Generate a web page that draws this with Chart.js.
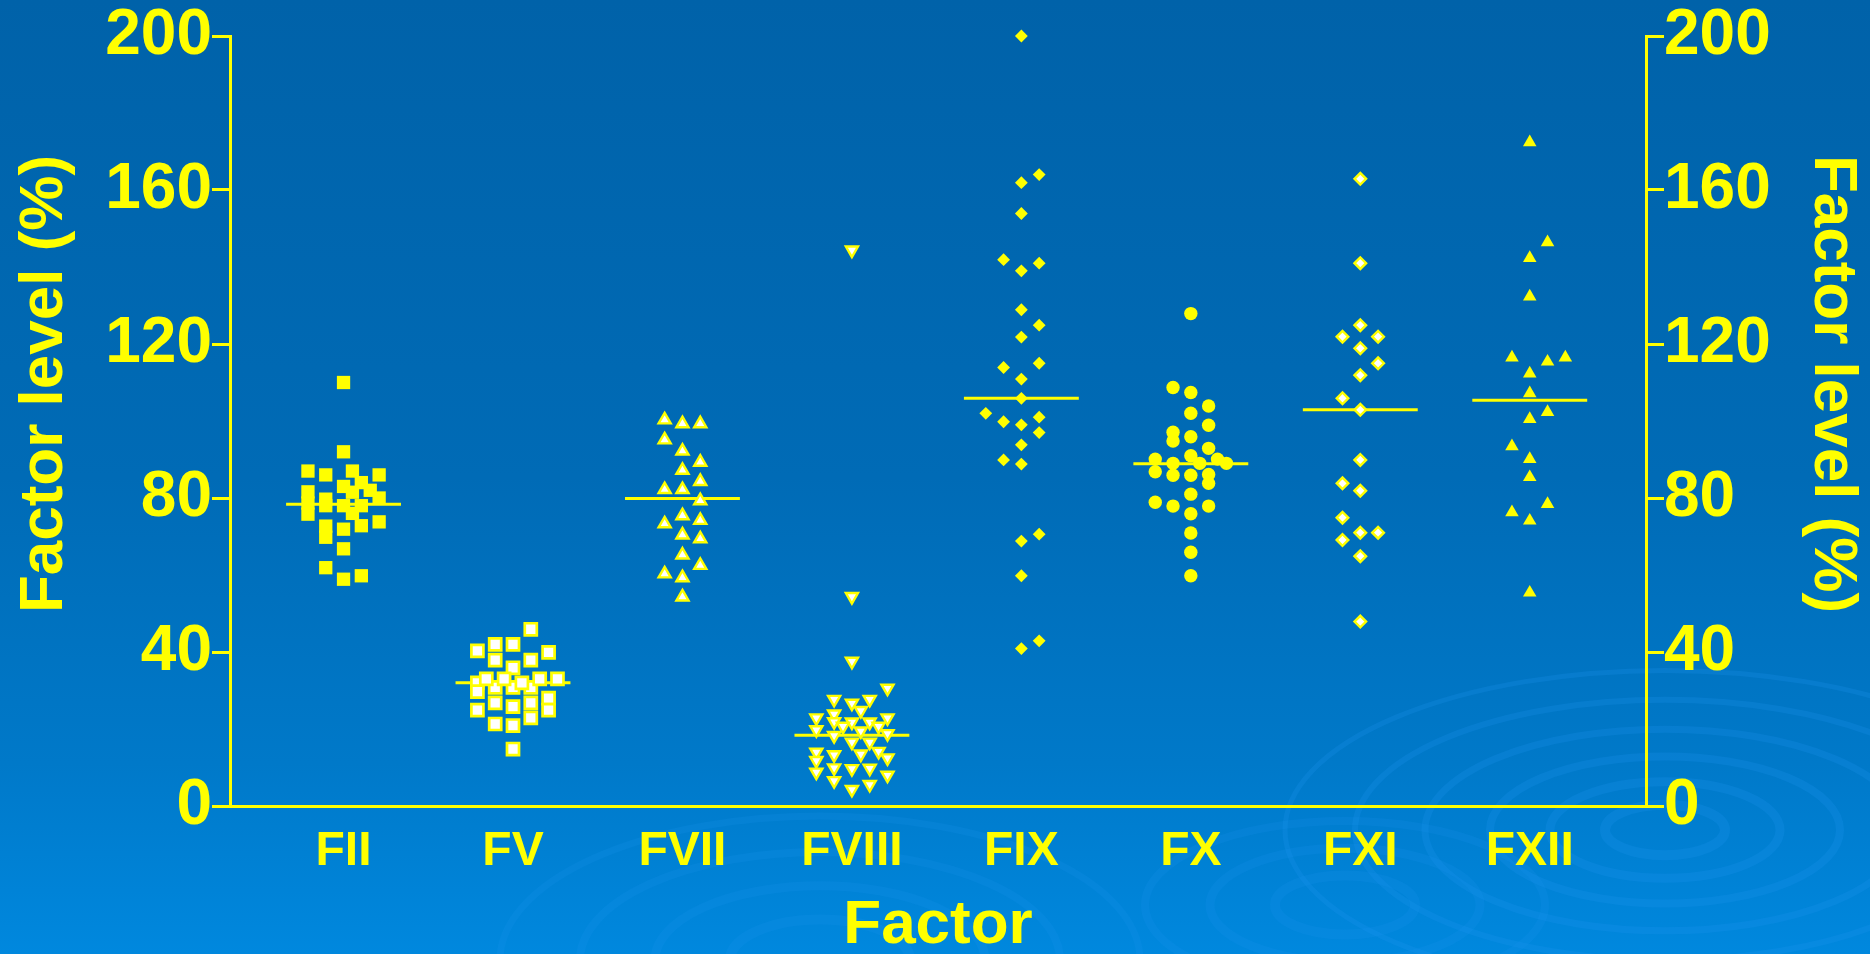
<!DOCTYPE html>
<html>
<head>
<meta charset="utf-8">
<script src="https://cdn.jsdelivr.net/npm/chart.js@4.4.1/dist/chart.umd.min.js"></script>
<style>
  html, body { margin: 0; padding: 0; background: #0068B2; overflow: hidden; }
  #wrap { width: 1870px; height: 954px; }
</style>
</head>
<body>
<div id="wrap"><canvas id="c" width="1870" height="954"></canvas></div>
<script>
// Coagulation factor levels (%) per factor, with the column slot each dot occupies
const categories = ['FII', 'FV', 'FVII', 'FVIII', 'FIX', 'FX', 'FXI', 'FXII'];
const yTicks = [0, 40, 80, 120, 160, 200];
const medians = [78.4, 32.0, 79.9, 18.4, 105.9, 88.9, 102.9, 105.4];

const fiiVals  = [110, 92, 87, 86, 87, 86, 84, 83, 81.5, 82, 80, 81.6, 78.7, 75.8, 79.7, 78, 72.7, 69.8, 78, 76, 78, 72.8, 73.8, 71.9, 66.8, 61.9, 58.9, 59.8];
const fiiSlots = [0, 0, -4, -2, 1, 4, 2, 0, 1, 3, 4, -4, -4, -4, -2, -2, -2, -2, 0, 1, 2, 2, 4, 0, 0, -2, 0, 2];

const fvVals  = [45.9, 42, 42, 40.3, 39.9, 37.9, 37.9, 35.9, 32, 30.8, 30.8, 30.8, 33, 33, 32, 33, 33, 29.7, 28, 26.8, 26.8, 25.8, 24.9, 24.9, 22.9, 21.3, 20.9, 14.8];
const fvSlots = [2, -2, 0, -4, 4, -2, 2, 0, -4, -2, 0, 2, -3, -1, 1, 3, 5, -4, 4, -2, 2, 0, -4, 4, 2, -2, 0, 0];

const fviiVals  = [100.3, 99.3, 99.3, 95.1, 92.2, 89.3, 87.2, 84.3, 82.2, 82.2, 79.3, 75.4, 74.2, 73.3, 70.4, 69.4, 65.2, 62.5, 60.3, 59.3, 54.3];
const fviiSlots = [-2, 0, 2, -2, 0, 2, 0, 2, -2, 0, 2, 0, 2, -2, 0, 2, 0, 2, -2, 0, 0];

const fviiiVals  = [144.4, 54.4, 37.6, 30.6, 27.7, 27.7, 26.7, 24.8, 23.9, 22.9, 22.9, 21.9, 21.8, 21.8, 20.7, 20.7, 19.8, 18.3, 19.5, 18.8, 16.6, 16.6, 14.2, 14.0, 13.5, 13.3, 11.8, 12.5, 8.8, 9.9, 9.7, 9.8, 8.0, 6.6, 5.6, 4.3];
const fviiiSlots = [0, 0, 0, 4, -2, 2, 0, 1, -2, -4, 4, -2, 0, 2, -1, 3, -4, -2, 1, 4, 0, 2, 3, -4, 1, -2, -4, 4, -4, -2, 0, 2, 4, -2, 2, 0];

const fixVals  = [200, 164, 161.9, 153.9, 141.9, 141, 139, 128.9, 124.9, 121.8, 113.9, 115, 110.9, 105.9, 102, 99.8, 101, 99, 97, 93.8, 89.9, 88.8, 70.6, 68.8, 59.8, 42.9, 40.9];
const fixSlots = [0, 2, 0, 0, -2, 2, 0, 0, 2, 0, -2, 2, 0, 0, -4, -2, 2, 0, 2, 0, -2, 0, 2, 0, 0, 2, 0];

const fxVals  = [127.9, 108.7, 107.4, 103.9, 102, 98.9, 97.1, 94.8, 95.9, 92.9, 91, 90.1, 90.1, 89, 89, 89, 86.8, 86.1, 85.9, 85.9, 83.8, 81, 78.9, 77.9, 77.9, 75.9, 70.9, 65.9, 59.8];
const fxSlots = [0, -2, 0, 2, 0, 2, -2, -2, 0, 2, 0, -4, 3, -2, 1, 4, -4, 2, -2, 0, 2, 0, -4, -2, 2, 0, 0, 0, 0];

const fxiVals  = [162.9, 141, 124.9, 121.9, 121.9, 118.9, 115, 111.9, 105.9, 102.9, 89.9, 83.8, 81.9, 74.9, 71, 71, 69.1, 64.9, 47.9];
const fxiSlots = [0, 0, 0, -2, 2, 0, 2, 0, -2, 0, 0, -2, 0, -2, 0, 2, -2, 0, 0];

const fxiiVals  = [172.4, 146.4, 142.3, 132.3, 116.5, 115.4, 116.5, 112.3, 107.2, 102.3, 100.5, 93.4, 90.1, 85.4, 78.4, 76.3, 74.1, 55.4];
const fxiiSlots = [0, 2, 0, 0, -2, 2, 4, 0, 0, 2, 0, -2, 0, 0, 2, -2, 0, 0];

// ---- appearance ----
const YELLOW = '#FFFF00';
const WHITE = '#FFFFFF';
const FONT = "'Liberation Sans', Arial, Helvetica, sans-serif";
const SLOT = 0.0525;      // horizontal spacing between dot columns (x units)
const HALF_BAR = 0.339;   // half length of the median bar (x units)

const groups = [
  { vals: fiiVals,   slots: fiiSlots,   style: 'rect',     r: 9.4, fill: YELLOW, bw: 0,   rot: 0 },
  { vals: fvVals,    slots: fvSlots,    style: 'rect',     r: 8.5, fill: WHITE,  bw: 2.7, rot: 0 },
  { vals: fviiVals,  slots: fviiSlots,  style: 'triangle', r: 7.0, fill: WHITE,  bw: 2.4, rot: 0 },
  { vals: fviiiVals, slots: fviiiSlots, style: 'triangle', r: 7.0, fill: WHITE,  bw: 2.4, rot: 180 },
  { vals: fixVals,   slots: fixSlots,   style: 'rectRot',  r: 6.4, fill: YELLOW, bw: 0,   rot: 0 },
  { vals: fxVals,    slots: fxSlots,    style: 'circle',   r: 6.7, fill: YELLOW, bw: 0,   rot: 0 },
  { vals: fxiVals,   slots: fxiSlots,   style: 'rectRot',  r: 5.8, fill: WHITE,  bw: 2.4, rot: 0 },
  { vals: fxiiVals,  slots: fxiiSlots,  style: 'triangle', r: 7.8, fill: YELLOW, bw: 0,   rot: 0 }
];

const dotSets = groups.map((g, i) => ({
  type: 'scatter',
  label: categories[i],
  data: g.vals.map((v, k) => ({ x: i + 1 + g.slots[k] * SLOT, y: v })),
  pointStyle: g.style,
  pointRadius: g.r,
  pointRotation: g.rot,
  pointBackgroundColor: g.fill,
  pointBorderColor: YELLOW,
  pointBorderWidth: g.bw,
  showLine: false,
  clip: false,
  order: 0
}));

const medianSets = medians.map((m, i) => ({
  type: 'line',
  label: categories[i] + ' median',
  data: [{ x: i + 1 - HALF_BAR, y: m }, { x: i + 1 + HALF_BAR, y: m }],
  borderColor: YELLOW,
  borderWidth: 3,
  pointRadius: 0,
  fill: false,
  clip: false,
  order: 1
}));

// blue backdrop with faint water ripples
const backdrop = {
  id: 'backdrop',
  beforeDraw(chart) {
    const { ctx, width, height } = chart;
    ctx.save();
    const g = ctx.createLinearGradient(0, 0, 0, height);
    g.addColorStop(0, '#0062A9');
    g.addColorStop(0.5, '#006BB6');
    g.addColorStop(0.8, '#0079C9');
    g.addColorStop(1, '#0088DE');
    ctx.fillStyle = g;
    ctx.fillRect(0, 0, width, height);
    const rings = [
      { cx: 1665, cy: 830, radii: [60, 115, 175, 240, 310, 380], k: 0.42, a: 0.22 },
      { cx: 820, cy: 960, radii: [90, 165, 240, 320], k: 0.45, a: 0.18 },
      { cx: 1345, cy: 905, radii: [70, 135, 200], k: 0.42, a: 0.16 }
    ];
    rings.forEach(s => {
      ctx.strokeStyle = 'rgba(30,150,240,' + s.a + ')';
      s.radii.forEach((r, j) => {
        ctx.lineWidth = 10 - j;
        ctx.beginPath();
        ctx.ellipse(s.cx, s.cy, r, r * s.k, 0, 0, Math.PI * 2);
        ctx.stroke();
      });
    });
    ctx.restore();
  }
};

// vertical axis titles on both sides
const sideTitles = {
  id: 'sideTitles',
  afterDraw(chart) {
    const { ctx } = chart;
    const draw = (x, angle) => {
      ctx.save();
      ctx.fillStyle = YELLOW;
      ctx.font = 'bold 62px ' + FONT;
      ctx.textAlign = 'center';
      ctx.textBaseline = 'middle';
      ctx.translate(x, 384);
      ctx.rotate(angle);
      ctx.fillText('Factor level (%)', 0, 0);
      ctx.restore();
    };
    draw(45, -Math.PI / 2);
    draw(1832, Math.PI / 2);
  }
};

const yAxisCommon = {
  type: 'linear',
  min: yTicks[0],
  max: yTicks[yTicks.length - 1],
  afterBuildTicks: s => { s.ticks = yTicks.map(v => ({ value: v })); },
  grid: { display: true, drawOnChartArea: false, drawTicks: true, tickLength: 18, lineWidth: 3, color: YELLOW },
  border: { display: true, color: YELLOW, width: 3 },
  title: { display: false }
};

new Chart(document.getElementById('c'), {
  data: { datasets: [...dotSets, ...medianSets] },
  plugins: [backdrop, sideTitles],
  options: {
    responsive: false,
    animation: false,
    devicePixelRatio: 1,
    layout: { padding: { top: 36, left: 0, right: 0, bottom: 0 } },
    plugins: { legend: { display: false }, tooltip: { enabled: false } },
    events: [],
    scales: {
      x: {
        type: 'linear',
        position: 'bottom',
        min: 0.33,
        max: 8.686,
        afterBuildTicks: s => { s.ticks = categories.map((c, i) => ({ value: i + 1 })); },
        afterFit: s => { s.height = 148; },
        grid: { display: false, drawTicks: false },
        border: { display: true, color: YELLOW, width: 3 },
        ticks: {
          autoSkip: false,
          maxRotation: 0,
          padding: 17,
          color: YELLOW,
          font: { family: FONT, size: 48, weight: 'bold', lineHeight: 1.2 },
          callback: v => categories[Math.round(v) - 1]
        },
        title: {
          display: true,
          text: 'Factor',
          color: YELLOW,
          font: { family: FONT, size: 62, weight: 'bold', lineHeight: 1.2 },
          padding: { top: 0, bottom: -9 }
        }
      },
      y: Object.assign({}, yAxisCommon, {
        position: 'left',
        afterFit: s => { s.width = 230; },
        ticks: { padding: 0, color: YELLOW, font: { family: FONT, size: 64, weight: 'bold', lineHeight: 1 } }
      }),
      y2: Object.assign({}, yAxisCommon, {
        position: 'right',
        afterFit: s => { s.width = 224; },
        ticks: { padding: 0, color: YELLOW, font: { family: FONT, size: 64, weight: 'bold', lineHeight: 1 } }
      })
    }
  }
});
</script>
</body>
</html>
